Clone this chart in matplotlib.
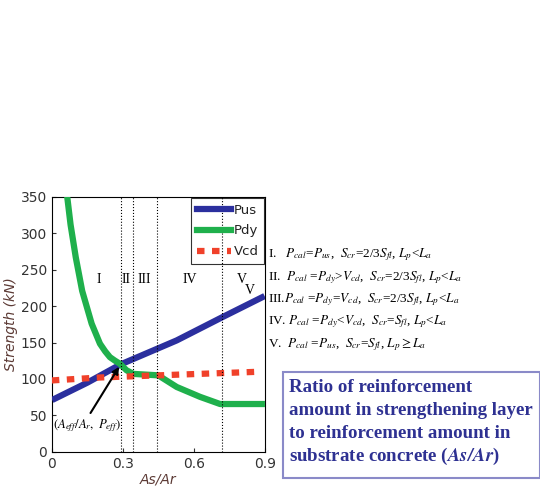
import numpy as np
import matplotlib
matplotlib.use("Agg")
from matplotlib import pyplot as plt
from matplotlib.patches import Rectangle

plt.rcParams['mathtext.fontset'] = 'stix'

# data
x_pus = [0.013, 0.15, 0.29, 0.527, 0.72, 0.886]
pus = [73, 95, 120, 153, 185, 212]

x_pdy = [0.065, 0.079, 0.101, 0.128, 0.168, 0.203, 0.225, 0.245, 0.267, 0.287, 0.315,
         0.344, 0.449, 0.527, 0.625, 0.71, 0.886]
pdy = [350, 312, 267, 221, 176, 148.5, 138, 130, 125, 121, 112, 107, 105, 89, 75.5,
       65.6, 65.6]

x_vcd = [0.0, 0.2, 0.45, 0.88]
vcd = [98, 102, 105, 110]

region_bounds = [0.29, 0.342, 0.444, 0.718]
region_names = ['I', 'II', 'III', 'IV', 'V']
region_x = [0.2, 0.315, 0.39, 0.58, 0.8]

conditions = [
    r'I.   $P_{cal}$=$P_{us}$,  $S_{cr}$=2/3$S_{fl}$, $L_p$<$L_a$',
    r'II.  $P_{cal}$ =$P_{dy}$>$V_{cd}$,  $S_{cr}$=2/3$S_{fl}$, $L_p$<$L_a$',
    r'III.$P_{cal}$ =$P_{dy}$=$V_{cd}$,  $S_{cr}$=2/3$S_{fl}$, $L_p$<$L_a$',
    r'IV. $P_{cal}$ =$P_{dy}$<$V_{cd}$,  $S_{cr}$=$S_{fl}$, $L_p$<$L_a$',
    r'V.  $P_{cal}$ =$P_{us}$,  $S_{cr}$=$S_{fl}$, $L_p$$\geq$$L_a$',
]

lab_color = '#5c3a35'

fig = plt.figure(figsize=(5.4, 4.9), dpi=100)
ax = fig.add_axes([0.096, 0.078, 0.395, 0.52])

ax.plot(x_pus, pus, color='#2b2f9e', lw=4.5, label='Pus', zorder=3)
ax.plot(x_pdy, pdy, color='#1fb04c', lw=4.5, label='Pdy', zorder=3)
ax.plot(x_vcd, vcd, color='#f0412a', lw=4.5, ls=(0, (1.2, 1.2)), label='Vcd', zorder=3)

for b in region_bounds:
    ax.axvline(b, color='k', lw=0.8, ls=':', zorder=4)

for name, rx in zip(region_names, region_x):
    ax.text(rx, 237, name, ha='center', va='center', fontsize=10, family='Liberation Serif')
ax.text(0.835, 222, 'V', ha='center', va='center', fontsize=10, family='Liberation Serif')

ax.annotate('', xy=(0.29, 120), xytext=(0.157, 50),
            arrowprops=dict(arrowstyle='-|>', color='k', lw=1.5, mutation_scale=10), zorder=5)
ax.text(0.003, 36, r'$(A_{eff}/A_r,\ P_{eff})$', fontsize=9.2, ha='left', va='center')

ax.set_xlim(0, 0.9)
ax.set_ylim(0, 350)
ax.set_xticks([0, 0.3, 0.6, 0.9])
ax.set_xticklabels(['0', '0.3', '0.6', '0.9'])
ax.set_yticks(np.arange(0, 351, 50))
ax.tick_params(labelsize=10, colors='#333333', length=3, direction='in')
ax.set_xlabel('As/Ar', fontsize=10, style='italic', color=lab_color, labelpad=1)
ax.set_ylabel('Strength (kN)', fontsize=10, style='italic', color=lab_color, labelpad=2)

leg = ax.legend(loc='upper right', fontsize=9.5, handlelength=2.6, borderaxespad=0.1,
                frameon=True, fancybox=False, edgecolor='k', facecolor='none',
                handletextpad=0.2, labelspacing=0.6)
leg.get_frame().set_linewidth(0.8)
for t in leg.get_texts():
    t.set_color('#222222')

for i, c in enumerate(conditions):
    fig.text(0.497, 1 - (255 + 22.3 * i) / 490, c, fontsize=9.5, ha='left', va='center',
             family='Liberation Serif')

fig.patches.append(Rectangle((283 / 540, 1 - 478 / 490), 257 / 540, 106 / 490,
                             transform=fig.transFigure, fill=False,
                             edgecolor='#8a8ac8', lw=1.5))
box_lines = ['Ratio of reinforcement', 'amount in strengthening layer',
             'to reinforcement amount in']
for i, s in enumerate(box_lines):
    fig.text(289 / 540, 1 - (387 + 23.3 * i) / 490, s, fontsize=13.6, fontweight='bold',
             color='#2e3192', family='Liberation Serif', ha='left', va='center')
fig.text(289 / 540, 1 - (387 + 23.3 * 3) / 490,
         r'substrate concrete (' + r'$\mathbfit{As/Ar}$' + ')', fontsize=13.6,
         fontweight='bold', color='#2e3192', family='Liberation Serif', ha='left', va='center')

fig.savefig('out.png', dpi=100)
